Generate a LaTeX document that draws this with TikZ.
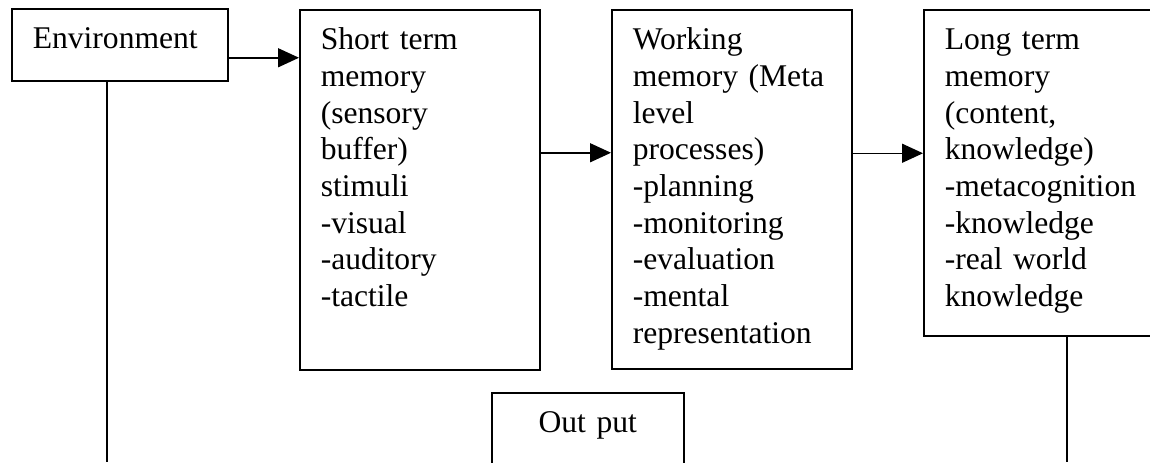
\documentclass[tikz,border=0pt]{standalone}
\usepackage{fontspec}
\setmainfont{Liberation Serif}
\usepackage{tikz}
\usetikzlibrary{arrows.meta,positioning}
\tikzset{
  box/.style={draw, line width=0.75pt, anchor=north west, align=left,
    inner xsep=10.5pt, inner ysep=0pt, text height=20pt},
  flow/.style={draw, line width=0.75pt, -{Triangle[length=10.5pt,width=9.5pt]}},
  link/.style={draw, line width=0.75pt}
}
\begin{document}
\begin{tikzpicture}[x=0.5pt, y=-0.5pt, font=\fontsize{15.8}{18.35}\selectfont]
    \clip (0,0) rectangle (1150,462);
    \node[box, text width=87pt, text depth=16pt] (env) at (11,8) {Environment};
    \node[box, text width=99pt, text depth=160pt] (stm) at (299,9)
      {Short term\\memory\\(sensory\\buffer)\\stimuli\\-visual\\-auditory\\-tactile};
    \node[box, text width=99pt, text depth=159.5pt] (wm) at (611,9)
      {Working\\memory (Meta\\level\\processes)\\-planning\\-monitoring\\-evaluation\\-mental\\representation};
    \node[box, text width=99pt, text depth=143pt] (ltm) at (923,9)
      {Long term\\memory\\(content,\\knowledge)\\-metacognition\\-knowledge\\-real world\\knowledge};
    \node[box, align=center, text width=75pt, text depth=30pt] (out) at (491,392) {Out put};

    \coordinate (envend) at (107,462);
    \coordinate (ltmend) at (1067,462);
    \coordinate (a1) at ([yshift=-6.5pt]env.east);
    \coordinate (a2) at ([yshift=18.5pt]stm.east);
    \coordinate (a3) at ([yshift=18pt]wm.east);

    \draw[flow] (a1) -- (stm.west |- a1);
    \draw[flow] (a2) -- (wm.west |- a2);
    \draw[flow] (a3) -- (ltm.west |- a3);
    \draw[link] (env.south -| envend) -- (envend);
    \draw[link] (ltm.south -| ltmend) -- (ltmend);
\end{tikzpicture}
\end{document}
